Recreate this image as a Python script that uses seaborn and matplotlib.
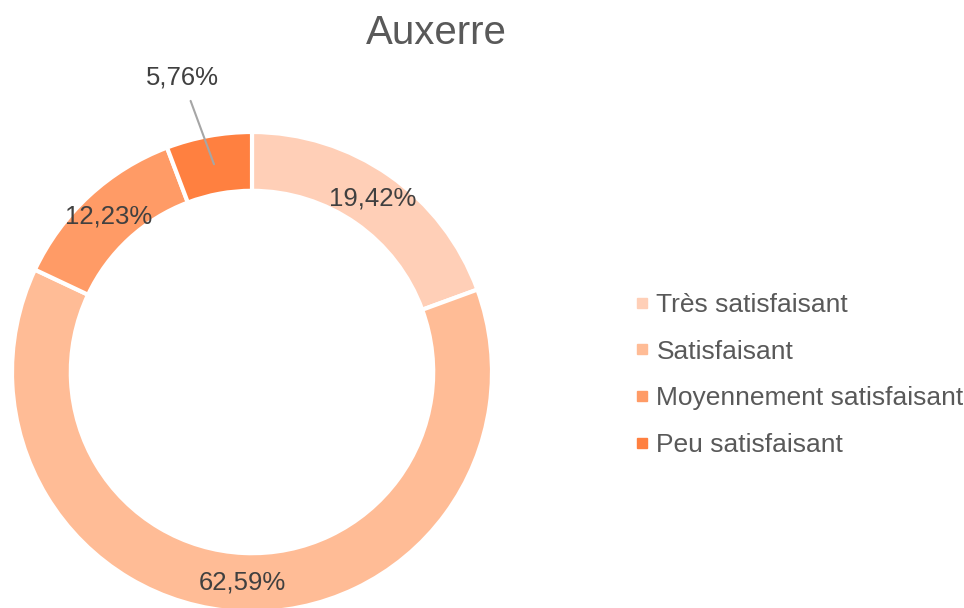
import numpy as np
import seaborn as sns
import matplotlib.pyplot as plt
from matplotlib.lines import Line2D

# Données du graphique
categories = ['Très satisfaisant', 'Satisfaisant', 'Moyennement satisfaisant', 'Peu satisfaisant']
valeurs = [19.42, 62.59, 12.23, 5.76]
couleurs = ['#FFCFB7', '#FFBC96', '#FF9B66', '#FF8040']
titre = 'Auxerre'

sns.set_theme(style='white')
plt.rcParams['font.family'] = ['Liberation Sans', 'DejaVu Sans']
gris = '#595959'

fig = plt.figure(figsize=(9.64, 6.08), dpi=100)
# axe carré pour le donut (en pixels: centre ~ (252, 372), rayon 240)
ax = fig.add_axes([12 / 964, -4 / 608, 480 / 964, 480 / 608])

palette = sns.color_palette(couleurs)
wedges, _ = ax.pie(
    valeurs,
    colors=palette,
    startangle=90,
    counterclock=False,
    radius=1,
    wedgeprops=dict(width=0.245, edgecolor='white', linewidth=3),
)
ax.set_xlim(-1, 1)
ax.set_ylim(-1, 1)
ax.set_aspect('auto')
ax.axis('off')

# Étiquettes en pourcentage (format français)
debut = 90.0
for i, v in enumerate(valeurs):
    milieu = np.deg2rad(debut - v / 100 * 360 / 2)
    debut -= v / 100 * 360
    texte = f'{v:.2f}%'.replace('.', ',')
    r = 0.88
    x, y = r * np.cos(milieu), r * np.sin(milieu)
    if v < 8:
        # petite part: étiquette à l'extérieur avec une ligne de rappel
        xt, yt = 1.26 * np.cos(milieu + np.deg2rad(3)), 1.26 * np.sin(milieu + np.deg2rad(3))
        ax.annotate(texte, xy=(x, y), xytext=(xt, yt), ha='center', va='center',
                    fontsize=18.5, color='#404040', annotation_clip=False,
                    arrowprops=dict(arrowstyle='-', color='#A6A6A6', lw=1.5,
                                    shrinkA=6, shrinkB=0))
    else:
        ax.text(x, y, texte, ha='center', va='center', fontsize=18.5, color='#404040')

fig.text(436 / 964, 1 - 33 / 608, titre, ha='center', va='center', fontsize=29, color=gris)

poignees = [Line2D([0], [0], marker='s', linestyle='none', markersize=7.2,
                   markerfacecolor=c, markeredgecolor=c) for c in palette]
leg = fig.legend(poignees, categories, loc='center left',
                 bbox_to_anchor=(634 / 964, 1 - 375 / 608),
                 frameon=False, fontsize=19, labelcolor=gris,
                 handlelength=0.6, handletextpad=0.25, labelspacing=0.86,
                 borderpad=0, borderaxespad=0)

fig.savefig('out.png', dpi=100)
